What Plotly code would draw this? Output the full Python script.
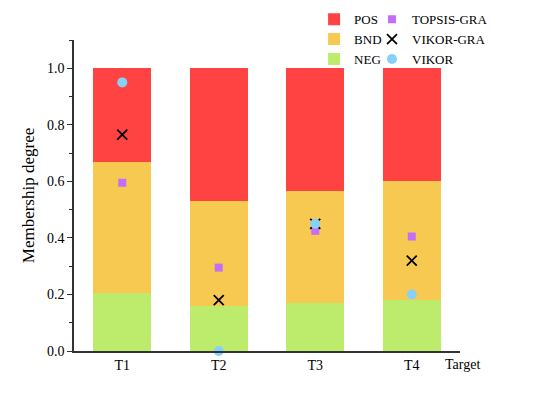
import plotly.graph_objects as go

targets = ["T1", "T2", "T3", "T4"]
neg = [0.205, 0.16, 0.17, 0.18]
bnd = [0.465, 0.37, 0.395, 0.42]
pos = [0.33, 0.47, 0.435, 0.40]

topsis_gra = [0.595, 0.295, 0.425, 0.405]
vikor_gra = [0.765, 0.18, 0.45, 0.32]
vikor = [0.95, 0.0, 0.45, 0.20]

FONT = "Liberation Serif"
AXIS_COLOR = "#333333"

fig = go.Figure()

# stacked bars, legend 1
for name, vals, color in [
    ("NEG", neg, "#BDEB6B"),
    ("BND", bnd, "#F8C951"),
    ("POS", pos, "#FF4343"),
]:
    fig.add_bar(x=targets, y=vals, name=name, marker_color=color,
                marker_line_width=0, width=0.6, legend="legend")

# method markers, legend 2
fig.add_scatter(x=targets, y=topsis_gra, mode="markers", name="TOPSIS-GRA",
                marker=dict(symbol="square", size=8, color="#C36EF7"),
                legend="legend2")
fig.add_scatter(x=targets, y=vikor_gra, mode="markers", name="VIKOR-GRA",
                marker=dict(symbol="x-thin", size=10, color="black",
                            line=dict(width=1.8, color="black")),
                legend="legend2")
fig.add_scatter(x=targets, y=vikor, mode="markers", name="VIKOR",
                marker=dict(symbol="circle", size=10, color="#87D1F8"),
                legend="legend2", cliponaxis=False)

legend_common = dict(font=dict(family=FONT, size=13, color="black"),
                     bgcolor="rgba(0,0,0,0)", tracegroupgap=0,
                     xanchor="left", yanchor="top", itemwidth=30)

# the page has an 8px body margin, so the figure is laid out with that offset in mind
fig.update_layout(
    width=541, height=397,
    margin=dict(l=66, r=89, t=32, b=54, autoexpand=False),
    barmode="stack",
    plot_bgcolor="white", paper_bgcolor="white",
    font=dict(family=FONT, size=14, color="black"),
    legend=dict(x=0.622, y=1.115, traceorder="reversed", **legend_common),
    legend2=dict(x=0.772, y=1.115, traceorder="normal", **legend_common),
    xaxis=dict(showline=True, linecolor=AXIS_COLOR, linewidth=1.5,
               ticks="", range=[-0.5, 3.5], showgrid=False,
               tickfont=dict(family=FONT, size=14)),
    yaxis=dict(title=dict(text="Membership degree", font=dict(family=FONT, size=17),
                          standoff=8),
               range=[0, 1.1], dtick=0.2, tickformat=".1f",
               showline=True, linecolor=AXIS_COLOR, linewidth=1.5,
               ticks="outside", ticklen=5, tickcolor=AXIS_COLOR,
               minor=dict(ticks="outside", ticklen=3, dtick=0.1, tickcolor=AXIS_COLOR),
               showgrid=False, zeroline=False,
               tickfont=dict(family=FONT, size=14)),
    annotations=[dict(text="Target", x=1.0, y=0, xref="paper", yref="paper",
                      xanchor="right", yanchor="top", yshift=-4, xshift=22,
                      showarrow=False, font=dict(family=FONT, size=14))],
)

fig.write_html("out.html")
